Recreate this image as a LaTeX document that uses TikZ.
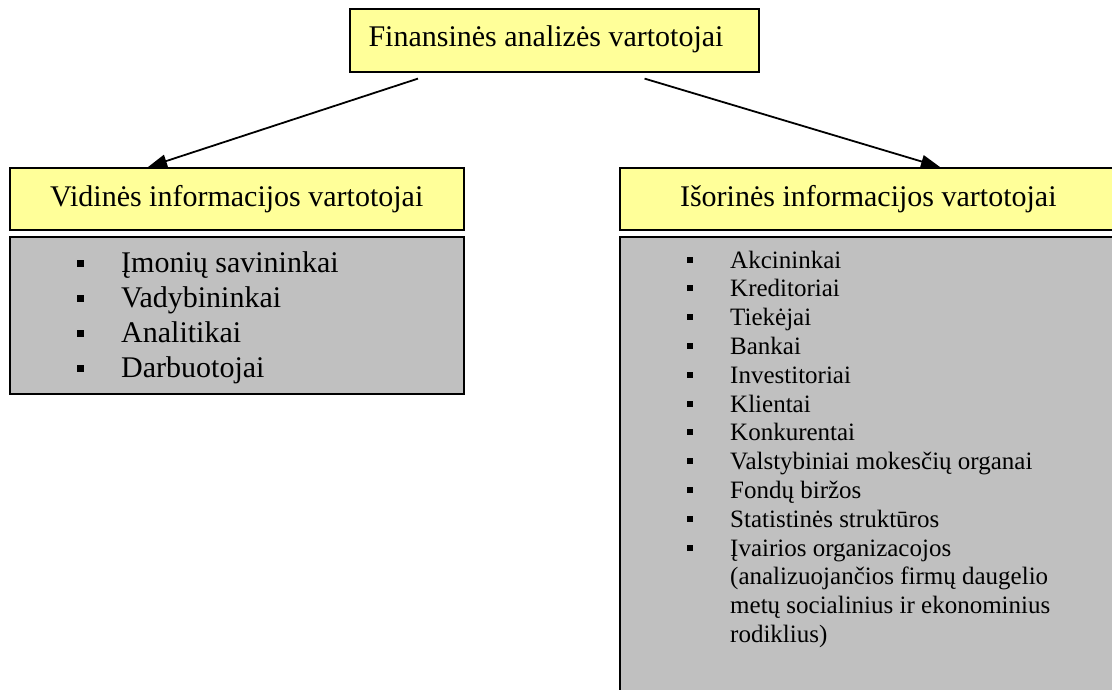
\documentclass[tikz,border=0pt]{standalone}
\usepackage{fontspec}
\setmainfont{Liberation Serif}
\usetikzlibrary{arrows.meta}
\definecolor{boxyellow}{HTML}{FFFF99}
\definecolor{boxgray}{HTML}{C0C0C0}
\begin{document}
\begin{tikzpicture}[x=1pt,y=-1pt,
  headbox/.style={draw=black, line width=1.6pt, fill=boxyellow, inner sep=0pt,
    anchor=north west, font=\fontsize{30}{36}\selectfont},
  listbox/.style={draw=black, line width=1.6pt, fill=boxgray, inner sep=0pt, anchor=north west},
  bigitem/.style={anchor=base west, inner sep=0pt, font=\fontsize{30}{36}\selectfont},
  smallitem/.style={anchor=base west, inner sep=0pt, font=\fontsize{25}{30}\selectfont},
  bigbullet/.style={fill=black, inner sep=0pt, minimum size=7pt},
  smallbullet/.style={fill=black, inner sep=0pt, minimum size=6pt},
  arr/.style={line width=1.8pt, -{Triangle[length=19pt,width=13pt]}}]
\useasboundingbox (0,0) rectangle (1112,689);
\clip (0,0) rectangle (1112,689);

% top box
\node[headbox, minimum width=409pt, minimum height=63pt] (top) at (349,8) {};
\node[inner sep=0pt, font=\fontsize{30}{36}\selectfont] (toptext) at (546,39.5) {Finansinės analizės vartotojai};

% internal users
\node[headbox, minimum width=454pt, minimum height=62pt] (vid) at (9,167) {Vidinės informacijos vartotojai};
\node[listbox, minimum width=454pt, minimum height=157pt] (vidlist) at (9,236) {};

% external users
\node[headbox, minimum width=497pt, minimum height=62pt] (isor) at (619,167) {Išorinės informacijos vartotojai};
\node[listbox, minimum width=510pt, minimum height=480pt] (isorlist) at (619,236) {};

% arrows
\draw[arr] ([xshift=69pt,yshift=-6pt]top.south west) -- ([xshift=139pt]vid.north west);
\draw[arr] ([xshift=-115pt,yshift=-6pt]top.south east) -- ([xshift=321pt]isor.north west);

% internal list
\foreach \t [count=\i] in {Įmonių savininkai, Vadybininkai, Analitikai, Darbuotojai}{
  \node[bigitem] (L\i) at (121,{272+35*(\i-1)}) {\t};
  \node[bigbullet] (Lb\i) at (80,{263.5+35*(\i-1)}) {};
}

% external list
\foreach \t [count=\i] in {Akcininkai, Kreditoriai, Tiekėjai, Bankai, Investitoriai,
  Klientai, Konkurentai, Valstybiniai mokesčių organai, Fondų biržos,
  Statistinės struktūros, Įvairios organizacojos}{
  \node[smallitem] (R\i) at (730,{268+28.8*(\i-1)}) {\t};
  \node[smallbullet] (Rb\i) at (690,{259.5+28.8*(\i-1)}) {};
}
% continuation of the last item
\node[smallitem] (C1) at (730,584.8) {(analizuojančios firmų daugelio};
\node[smallitem] (C2) at (730,613.6) {metų socialinius ir ekonominius};
\node[smallitem] (C3) at (730,642.4) {rodiklius)};
\end{tikzpicture}
\end{document}
